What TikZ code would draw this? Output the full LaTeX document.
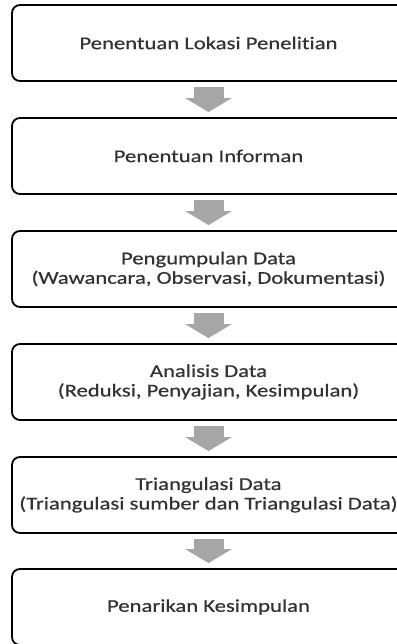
\documentclass[tikz,border=0pt]{standalone}
\usepackage{fontspec}
\setmainfont{Carlito}[FakeStretch=1.26,FakeBold=0.6,Ligatures={NoCommon}]
\usetikzlibrary{arrows.meta}
\definecolor{arrowgray}{HTML}{A6A6A6}
\definecolor{textgray}{HTML}{333333}
\tikzset{
  stepbox/.style={draw=black, line width=1.8pt, rounded corners=8pt,
    minimum width=393pt, minimum height=76pt, align=center,
    text=textgray, font=\fontsize{18pt}{19.5pt}\selectfont},
  fatarrow/.style={draw=arrowgray, line width=30pt,
    -{Triangle[width=46pt,length=14pt]}}
}
\begin{document}
\begin{tikzpicture}[x=1pt,y=-1pt]
\useasboundingbox (0,0) rectangle (396,644);
\node[stepbox] (lokasi) at (208.5,43) {Penentuan Lokasi Penelitian};
\node[stepbox] (informan) at (208.5,156) {Penentuan Informan};
\node[stepbox] (kumpul) at (208.5,269) {Pengumpulan Data\\(Wawancara, Observasi, Dokumentasi)};
\node[stepbox] (analisis) at (208.5,382) {Analisis Data\\(Reduksi, Penyajian, Kesimpulan)};
\node[stepbox] (triang) at (208.5,495) {Triangulasi Data\\(Triangulasi sumber dan Triangulasi Data)};
\node[stepbox] (tarik) at (208.5,607) {Penarikan Kesimpulan};
\draw[fatarrow] ([yshift=-5pt]lokasi.south) -- ([yshift=5pt]informan.north);
\draw[fatarrow] ([yshift=-5pt]informan.south) -- ([yshift=5pt]kumpul.north);
\draw[fatarrow] ([yshift=-5pt]kumpul.south) -- ([yshift=5pt]analisis.north);
\draw[fatarrow] ([yshift=-5pt]analisis.south) -- ([yshift=5pt]triang.north);
\draw[fatarrow] ([yshift=-5pt]triang.south) -- ([yshift=5pt]tarik.north);
\end{tikzpicture}
\end{document}
